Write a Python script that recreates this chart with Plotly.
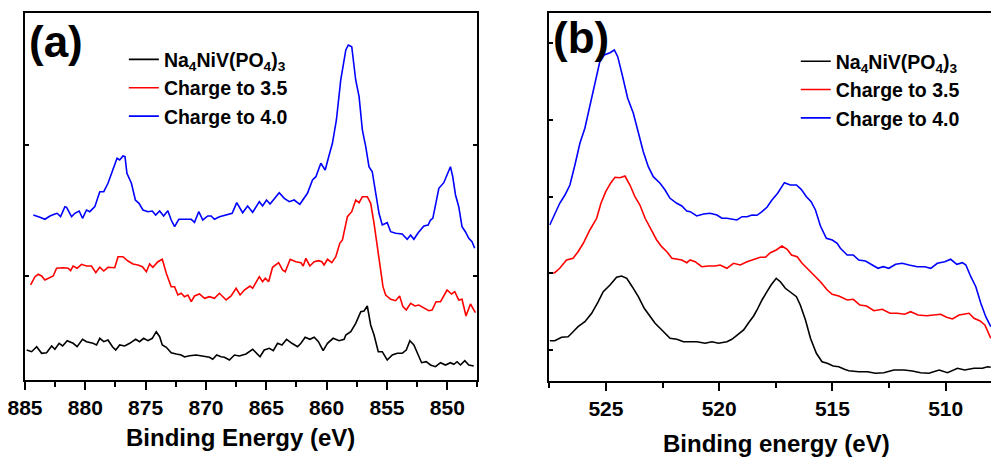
import plotly.graph_objects as go

# ---------------- Ni 2p region (panel a) ----------------
a_pristine_E = [884.86, 884.45, 884.03, 883.62, 883.21, 882.79, 882.52, 882.17, 881.88, 881.50,
                881.01, 880.68, 880.23, 879.90, 879.36, 879.07, 878.80, 878.47, 878.12, 877.75,
                877.48, 877.15, 876.74, 876.32, 875.83, 875.50, 875.17, 874.81, 874.45, 874.12,
                873.84, 873.62, 873.29, 872.88, 872.46, 872.05, 871.78, 871.36, 870.81, 870.26,
                869.71, 869.44, 869.11, 868.75, 868.47, 868.06, 867.64, 867.23, 866.68, 866.13,
                865.72, 865.52, 865.17, 864.75, 864.42, 864.07, 863.70, 863.32, 862.88, 862.41,
                862.13, 861.78, 861.39, 861.03, 860.68, 860.29, 859.93, 859.46, 858.97, 858.55,
                858.41, 858.00, 857.59, 857.17, 856.90, 856.63, 856.35, 856.07, 855.72, 855.39,
                854.98, 854.56, 854.15, 853.74, 853.40, 853.10, 852.77, 852.50, 852.13, 851.75,
                851.39, 850.98, 850.56, 850.15, 849.74, 849.46, 849.19, 848.91, 848.55, 848.22,
                847.81]
a_pristine_I = [30.0, 28.3, 33.3, 26.7, 27.3, 34.0, 30.7, 36.7, 34.0, 39.3,
                36.7, 33.3, 40.7, 38.3, 36.7, 35.0, 41.7, 38.3, 40.0, 33.3,
                30.0, 35.0, 34.0, 36.7, 40.7, 38.3, 41.7, 39.3, 41.7, 48.3,
                43.3, 35.0, 32.7, 27.3, 26.0, 25.0, 23.0, 24.3, 25.0, 24.0,
                22.7, 20.7, 25.0, 23.3, 22.7, 20.0, 25.0, 24.0, 26.0, 30.7,
                26.0, 23.3, 30.0, 31.7, 29.3, 36.7, 35.0, 40.7, 36.7, 33.3,
                36.7, 42.7, 40.7, 42.7, 38.3, 29.3, 36.7, 41.7, 39.3, 40.7,
                45.0, 48.3, 56.7, 68.3, 69.0, 74.0, 55.0, 45.0, 28.3, 28.3,
                20.0, 25.0, 26.7, 26.7, 30.0, 39.3, 35.0, 26.7, 17.3, 18.3,
                15.0, 13.3, 17.3, 15.0, 17.3, 15.7, 18.3, 15.0, 19.3, 15.0,
                14.0]

a_charge35_E = [884.53, 884.17, 883.90, 883.62, 883.35, 883.07, 882.66, 882.38, 881.83, 881.42,
                881.22, 881.01, 880.68, 880.31, 879.90, 879.49, 879.13, 878.80, 878.47, 878.12,
                877.56, 877.29, 876.88, 876.46, 876.05, 875.64, 875.27, 874.94, 874.67, 874.40,
                873.98, 873.62, 873.29, 872.88, 872.60, 872.33, 872.05, 871.78, 871.50, 871.22,
                870.95, 870.54, 870.12, 869.71, 869.30, 868.88, 868.33, 867.92, 867.50, 867.17,
                866.82, 866.35, 866.13, 865.58, 865.31, 865.08, 864.81, 864.48, 863.98, 863.65,
                863.43, 863.02, 862.55, 862.13, 861.94, 861.72, 861.39, 861.03, 860.68, 860.40,
                860.21, 859.93, 859.57, 859.24, 858.91, 858.69, 858.28, 857.92, 857.59, 857.31,
                857.04, 856.63, 856.35, 856.07, 855.80, 855.52, 855.33, 855.11, 854.69, 854.28,
                853.95, 853.68, 853.40, 853.04, 852.69, 852.36, 851.94, 851.53, 851.26, 850.93,
                850.56, 850.29, 850.02, 849.65, 849.38, 849.05, 848.78, 848.45, 848.08, 847.67]
a_charge35_I = [95.0, 103.3, 105.7, 104.0, 100.0, 101.7, 104.0, 111.7, 112.3, 111.7,
                109.3, 114.0, 111.7, 115.7, 114.0, 114.0, 107.3, 112.7, 109.0, 112.7,
                112.3, 123.3, 123.3, 119.0, 116.0, 115.0, 113.3, 108.3, 116.0, 112.7,
                118.3, 120.7, 106.7, 93.3, 93.3, 85.0, 86.7, 83.3, 85.0, 78.3,
                84.0, 86.0, 81.7, 83.3, 81.7, 86.7, 80.0, 84.0, 91.7, 85.0,
                90.0, 94.0, 91.7, 103.3, 98.3, 101.7, 98.3, 112.7, 117.3, 110.0,
                108.3, 120.7, 118.3, 117.3, 114.0, 121.7, 114.0, 118.3, 119.3, 118.3,
                115.0, 120.7, 117.3, 123.3, 136.7, 140.0, 163.3, 168.3, 180.0, 177.3,
                183.3, 183.3, 176.7, 156.7, 133.3, 113.3, 93.3, 85.0, 80.7, 79.3,
                84.0, 73.3, 70.0, 76.7, 74.0, 75.0, 72.3, 69.3, 70.0, 78.3,
                78.3, 85.0, 90.0, 86.0, 88.3, 80.0, 80.7, 64.0, 76.0, 67.3]

a_charge40_E = [884.31, 884.03, 883.76, 883.35, 882.93, 882.52, 882.33, 882.05, 881.69, 881.55,
                881.14, 880.87, 880.51, 880.23, 879.90, 879.63, 879.21, 878.80, 878.47, 878.12,
                877.70, 877.37, 877.15, 876.88, 876.71, 876.55, 876.18, 875.85, 875.55, 875.22,
                874.81, 874.45, 874.17, 873.84, 873.51, 873.16, 872.88, 872.60, 872.25, 871.86,
                871.50, 871.22, 870.95, 870.60, 870.26, 869.85, 869.57, 869.30, 868.88, 868.33,
                867.83, 867.45, 866.96, 866.55, 866.13, 865.58, 865.31, 864.98, 864.69, 863.93,
                863.51, 863.10, 862.69, 862.22, 861.59, 861.17, 860.89, 860.48, 860.12, 859.79,
                859.52, 859.19, 858.83, 858.41, 858.20, 857.92, 857.59, 857.31, 857.04, 856.76,
                856.49, 856.22, 855.93, 855.66, 855.39, 854.98, 854.69, 854.28, 853.74, 853.32,
                853.04, 852.77, 852.41, 851.94, 851.59, 851.39, 851.20, 850.93, 850.70, 850.29,
                849.93, 849.74, 849.55, 849.32, 849.05, 848.78, 848.50, 848.22, 847.95, 847.73]
a_charge40_I = [165.0, 164.0, 162.7, 160.7, 164.0, 166.0, 166.7, 163.3, 173.3, 172.7,
                163.3, 166.7, 169.0, 161.7, 170.0, 168.3, 173.3, 188.3, 188.3, 196.7,
                210.0, 221.7, 220.0, 224.0, 223.3, 206.7, 196.7, 180.0, 176.7, 170.0,
                168.3, 169.0, 165.0, 169.0, 164.0, 169.3, 160.0, 153.3, 160.7, 160.7,
                160.0, 160.7, 157.7, 168.3, 160.0, 164.0, 164.0, 160.7, 163.3, 165.0,
                166.7, 177.3, 167.3, 174.0, 167.7, 178.3, 174.0, 180.0, 176.0, 187.3,
                181.7, 178.3, 180.0, 175.7, 186.7, 200.0, 203.3, 216.7, 210.0, 225.0,
                236.7, 260.0, 300.0, 330.0, 335.0, 333.3, 300.0, 283.3, 250.0, 233.3,
                213.3, 208.3, 186.7, 166.7, 155.0, 157.3, 148.3, 146.7, 146.0, 140.7,
                145.0, 140.7, 147.3, 154.0, 155.0, 160.0, 161.7, 176.7, 191.7, 197.3,
                206.7, 213.3, 203.3, 185.0, 173.3, 153.3, 148.3, 141.7, 138.3, 131.7]

# ---------------- V 2p region (panel b) ----------------
b_pristine_E = [527.48, 527.26, 526.96, 526.67, 526.45, 526.23, 525.93, 525.63, 525.34, 525.12,
                524.82, 524.53, 524.31, 524.08, 523.84, 523.57, 523.31, 523.05, 522.83, 522.61,
                522.39, 522.17, 521.87, 521.58, 521.28, 520.99, 520.62, 520.32, 520.03, 519.66,
                519.44, 519.22, 518.92, 518.70, 518.48, 518.33, 518.11, 517.89, 517.71, 517.48,
                517.30, 517.08, 516.86, 516.59, 516.42, 516.19, 515.97, 515.71, 515.46, 515.23,
                514.97, 514.72, 514.47, 514.28, 513.84, 513.46, 513.10, 512.73, 512.29, 511.84,
                511.47, 511.11, 510.74, 510.29, 509.92, 509.48, 509.16, 508.75, 508.38, 508.15,
                508.01]
b_pristine_I = [40.3, 40.3, 43.7, 44.3, 49.3, 54.3, 59.3, 67.7, 79.3, 89.3,
                96.0, 103.7, 105.0, 102.7, 94.3, 84.3, 72.7, 64.3, 57.7, 52.7,
                47.7, 42.7, 41.7, 39.3, 39.3, 39.3, 37.7, 39.3, 37.7, 39.3,
                41.7, 46.0, 51.0, 58.3, 65.0, 71.0, 81.0, 89.3, 96.0, 102.7,
                99.3, 92.7, 89.3, 84.3, 76.0, 61.0, 42.7, 27.7, 19.3, 17.7,
                15.0, 14.3, 11.7, 10.3, 9.3, 9.3, 7.7, 8.3, 11.0, 11.0,
                10.0, 8.3, 7.7, 11.0, 8.3, 12.7, 11.0, 12.7, 12.7, 14.3,
                13.7]

b_charge35_E = [527.48, 527.26, 527.04, 526.74, 526.45, 526.23, 526.00, 525.71, 525.41, 525.22,
                525.01, 524.78, 524.60, 524.38, 524.16, 523.94, 523.72, 523.50, 523.27, 523.01,
                522.76, 522.54, 522.31, 522.09, 521.87, 521.65, 521.43, 521.28, 521.06, 520.77,
                520.47, 520.18, 519.96, 519.66, 519.37, 519.07, 518.77, 518.41, 518.19, 517.96,
                517.74, 517.48, 517.23, 517.00, 516.81, 516.56, 516.34, 516.12, 515.83, 515.53,
                515.23, 515.01, 514.72, 514.65, 514.35, 514.08, 513.79, 513.49, 513.17, 512.80,
                512.46, 512.14, 511.81, 511.55, 511.22, 510.84, 510.52, 510.22, 509.96, 509.70,
                509.41, 509.19, 508.97, 508.75, 508.48, 508.27, 508.01]
b_charge35_I = [107.7, 108.3, 112.7, 121.0, 122.7, 129.3, 137.7, 151.0, 162.7, 177.7,
                189.3, 198.3, 203.7, 203.3, 205.0, 196.0, 184.3, 176.0, 162.7, 151.0,
                141.0, 134.3, 129.3, 122.7, 121.7, 121.0, 118.3, 121.0, 119.3, 114.3,
                115.0, 115.0, 116.0, 112.7, 117.7, 116.0, 119.3, 121.7, 123.7, 123.7,
                128.3, 131.0, 135.0, 131.7, 126.0, 124.3, 117.7, 112.7, 106.0, 99.3,
                91.0, 86.7, 85.0, 84.3, 81.0, 81.7, 76.0, 75.0, 70.3, 71.7,
                67.7, 67.7, 66.7, 69.3, 66.0, 65.3, 66.0, 66.7, 63.7, 62.0,
                66.0, 67.0, 67.7, 62.7, 60.0, 56.0, 42.7]

b_charge40_E = [527.48, 527.26, 527.04, 526.81, 526.59, 526.37, 526.15, 525.93, 525.71, 525.49,
                525.27, 525.08, 524.82, 524.63, 524.48, 524.28, 524.04, 523.79, 523.57, 523.35,
                523.13, 522.91, 522.61, 522.39, 522.17, 521.87, 521.65, 521.43, 521.28, 520.99,
                520.69, 520.40, 520.10, 519.88, 519.66, 519.44, 519.22, 518.99, 518.77, 518.55,
                518.33, 518.11, 517.89, 517.67, 517.42, 517.12, 516.86, 516.59, 516.38, 516.15,
                515.94, 515.75, 515.53, 515.27, 515.01, 514.79, 514.65, 514.35, 514.08, 513.84,
                513.54, 513.24, 512.99, 512.76, 512.51, 512.21, 511.92, 511.62, 511.25, 510.93,
                510.66, 510.37, 510.04, 509.78, 509.51, 509.26, 509.11, 508.89, 508.67, 508.45,
                508.23, 508.01]
b_charge40_I = [156.0, 167.7, 177.7, 186.0, 196.0, 216.0, 237.7, 252.7, 274.3, 297.7,
                319.3, 326.0, 328.3, 331.0, 324.3, 306.0, 282.7, 267.7, 247.7, 229.3,
                214.3, 204.3, 197.7, 191.0, 182.7, 177.7, 175.0, 170.0, 169.3, 165.0,
                167.0, 167.7, 166.0, 162.7, 162.7, 161.7, 161.0, 164.3, 164.3, 166.0,
                165.7, 169.3, 173.7, 181.0, 187.7, 198.3, 196.0, 196.0, 191.7, 184.3,
                179.3, 171.0, 155.0, 142.7, 141.0, 137.7, 132.7, 126.0, 126.0, 121.0,
                120.0, 116.0, 112.7, 114.3, 112.7, 116.7, 117.7, 116.0, 114.3, 114.3,
                112.7, 117.7, 119.3, 121.7, 116.7, 118.3, 116.0, 104.3, 94.3, 77.7,
                64.3, 54.3]

series_names = ["Na<sub>4</sub>NiV(PO<sub>4</sub>)<sub>3</sub>", "Charge to 3.5", "Charge to 4.0"]
series_colors = ["#000000", "#ff0000", "#0000ff"]

a_ticks_x = [885, 880, 875, 870, 865, 860, 855, 850]
b_ticks_x = [525, 520, 515, 510]
a_ticks_y = [104, 235]
b_ticks_y = [31, 108, 184, 261, 338]

FONT = "Liberation Sans, Arial, sans-serif"

fig = go.Figure()

panel_a = [(a_pristine_E, a_pristine_I), (a_charge35_E, a_charge35_I), (a_charge40_E, a_charge40_I)]
panel_b = [(b_pristine_E, b_pristine_I), (b_charge35_E, b_charge35_I), (b_charge40_E, b_charge40_I)]

for (e, i), name, col in zip(panel_a, series_names, series_colors):
    fig.add_trace(go.Scatter(x=e, y=i, mode="lines", name=name, legend="legend",
                             line=dict(color=col, width=1.6), xaxis="x", yaxis="y"))
for (e, i), name, col in zip(panel_b, series_names, series_colors):
    fig.add_trace(go.Scatter(x=e, y=i, mode="lines", name=name, legend="legend2",
                             line=dict(color=col, width=1.6), xaxis="x2", yaxis="y2"))

axis_common = dict(showgrid=False, zeroline=False, showline=True, linecolor="black",
                   linewidth=2, tickcolor="black", tickwidth=2, automargin=False)

tickfont = dict(family=FONT, size=21, color="black", weight="bold")
legendfont = dict(family=FONT, size=19.5, color="black", weight="bold")

fig.update_layout(
    width=991, height=457,
    margin=dict(l=0, r=0, t=0, b=0, autoexpand=False),
    paper_bgcolor="white", plot_bgcolor="white",
    xaxis=dict(**axis_common, domain=[0.0252, 0.4818], range=[885, 847.5],
               tickvals=a_ticks_x, ticks="outside", ticklen=8, mirror=True,
               tickfont=tickfont,
               minor=dict(ticks="outside", ticklen=5, dtick=2.5, tick0=850,
                          tickcolor="black", tickwidth=2),
               anchor="y"),
    yaxis=dict(**axis_common, domain=[0.1685, 0.9716], range=[0, 367],
               tickvals=a_ticks_y, ticks="inside", ticklen=4, mirror="ticks",
               showticklabels=False, anchor="x"),
    xaxis3=dict(overlaying="x", side="top", range=[885, 847.5], dtick=2.5, tick0=850,
                ticks="inside", ticklen=4, tickwidth=2, tickcolor="black",
                showticklabels=False, showgrid=False, zeroline=False, showline=False,
                automargin=False, anchor="y"),
    xaxis2=dict(**axis_common, domain=[0.5543, 1.0], range=[527.5, 508],
                tickvals=b_ticks_x, ticks="outside", ticklen=8, mirror=True,
                tickfont=tickfont,
                minor=dict(ticks="outside", ticklen=5, dtick=2.5, tick0=510,
                           tickcolor="black", tickwidth=2),
                anchor="y2"),
    yaxis2=dict(**axis_common, domain=[0.1663, 0.9716], range=[0, 368],
                tickvals=b_ticks_y, ticks="inside", ticklen=4, mirror=False,
                showticklabels=False, anchor="x2"),
    xaxis4=dict(overlaying="x2", side="top", range=[527.5, 508], dtick=2.5, tick0=510,
                ticks="inside", ticklen=4, tickwidth=2, tickcolor="black",
                showticklabels=False, showgrid=False, zeroline=False, showline=False,
                automargin=False, anchor="y2"),
    legend=dict(x=0.125, y=0.912, xanchor="left", yanchor="top",
                bgcolor="rgba(0,0,0,0)", borderwidth=0, font=legendfont),
    legend2=dict(x=0.803, y=0.908, xanchor="left", yanchor="top",
                 bgcolor="rgba(0,0,0,0)", borderwidth=0, font=legendfont),
    showlegend=True,
    annotations=[
        dict(text="(a)", x=0.0565, y=0.910, xref="paper", yref="paper",
             xanchor="center", yanchor="middle", showarrow=False,
             font=dict(family=FONT, size=44, color="black", weight="bold")),
        dict(text="(b)", x=0.5863, y=0.917, xref="paper", yref="paper",
             xanchor="center", yanchor="middle", showarrow=False,
             font=dict(family=FONT, size=44, color="black", weight="bold")),
        dict(text="Binding Energy (eV)", x=0.2422, y=0.0416, xref="paper", yref="paper",
             xanchor="center", yanchor="middle", showarrow=False,
             font=dict(family=FONT, size=24, color="black", weight="bold")),
        dict(text="Binding energy (eV)", x=0.784, y=0.0306, xref="paper", yref="paper",
             xanchor="center", yanchor="middle", showarrow=False,
             font=dict(family=FONT, size=24, color="black", weight="bold")),
    ],
)

fig.write_html("out.html")
